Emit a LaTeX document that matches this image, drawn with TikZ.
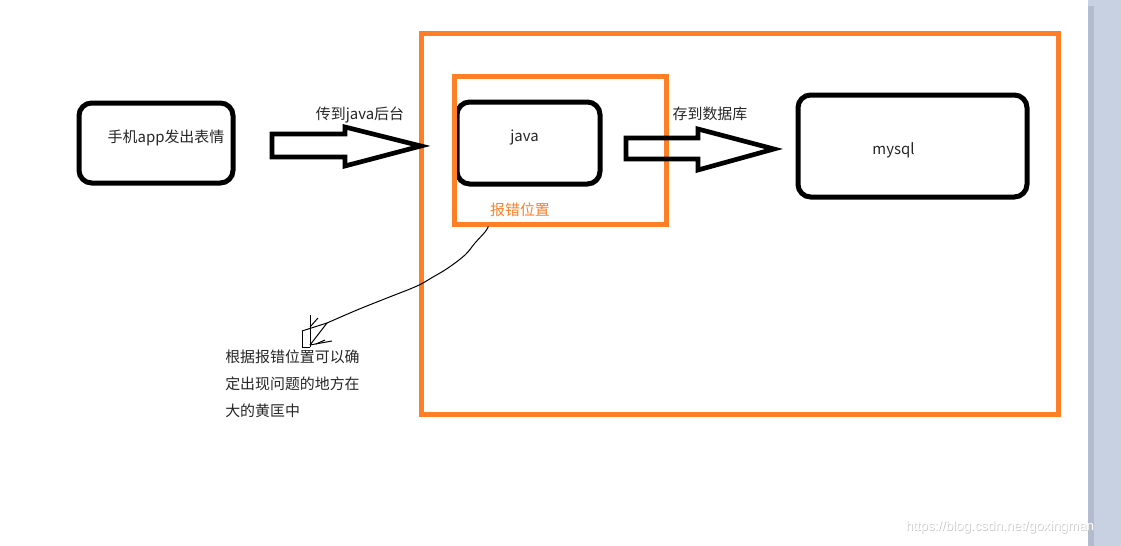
\documentclass[tikz,border=0pt]{standalone}
\usepackage{fontspec}
\setmainfont{Noto Sans CJK SC}
\newfontfamily\markfont{Liberation Sans}
\usetikzlibrary{calc}
\definecolor{paintorange}{RGB}{255,127,39}
\definecolor{barblue}{RGB}{200,209,225}
\definecolor{bardark}{RGB}{178,188,206}

\begin{document}
\begin{tikzpicture}[x=0.75pt,y=-0.75pt,font=\fontsize{11.2}{20}\selectfont,
 roundbox/.style={draw=black,line width=3.75pt,rounded corners=9.5pt,inner sep=0pt},
 errframe/.style={draw=paintorange,line width=3.75pt,inner sep=0pt},
 blockarrow/.style={draw=black,line width=3.5pt,line join=miter},
 lbl/.style={inner sep=0pt,text=black!85},
 pen/.style={line width=0.75pt}]
\useasboundingbox (0,0) rectangle (1121,546);
% scrollbar strip
\fill[barblue] (1088,0) rectangle (1121,546);
\fill[bardark] (1088,6) rectangle (1094,546);
% boxes
\node[roundbox,minimum width=115.5pt,minimum height=60pt] (app) at (156,143) {};
\node[lbl] at ($(app.center)+(10,-5)$) {手机app发出表情};
\node[roundbox,minimum width=107.25pt,minimum height=61.5pt] (java) at (528.5,143) {};
\node[lbl] at ($(java.center)+(-4,-5)$) {java};
\node[roundbox,minimum width=171.75pt,minimum height=76.5pt] (mysql) at (912.5,146) {};
\node[lbl] at ($(mysql.center)+(-19,4)$) {mysql};
% orange frames
\node[errframe,minimum width=477.75pt,minimum height=285.75pt] (bigframe) at (739.5,223.5) {};
\node[errframe,minimum width=159pt,minimum height=111pt] (errframe) at (560,150) {};
\node[inner sep=0pt,text=paintorange] (errlbl) at (520,210) {报错位置};
% block arrows
\draw[blockarrow] (272,134) -- (345,134) -- (345,127) -- (421,146) -- (345,166) -- (345,157) -- (272,157) -- cycle;
\node[lbl] (upload) at (360,115) {传到java后台};
\draw[blockarrow] (626,138) -- (698,138) -- (698,129) -- (774,149) -- (698,170) -- (698,159) -- (626,159) -- cycle;
\node[lbl] (store) at (710,114) {存到数据库};
% hand drawn pointer
\coordinate (curvestart) at ($(errframe.south west)!0.17!(errframe.south east)$);
\coordinate (curveend) at (327,323);
\draw[pen] plot[smooth,tension=0.6] coordinates {(curvestart) (485,232) (475,243) (465,255) (448,268) (433,277) (417,286) (387,298) (357,310) (curveend)};
\draw[pen] (310,315) -- (310,347);
\draw[pen] (302,331) -- (302,347) -- (310,347);
\draw[pen] (302,331) -- (curveend);
\draw[pen] (310,345) -- (curveend);
\draw[pen] (310,345) -- (332,341);
\draw[pen] (316,344) -- (325,340);
\draw[pen] (310,327) -- (318,318);
% note
\node[lbl,anchor=north west,align=left] (note) at (225,350) {根据报错位置可以确\\定出现问题的地方在\\大的黄匡中};
% watermark
\node[inner sep=0pt,text=black!22,font=\markfont\fontsize{10}{12}\selectfont] (markshadow) at (1000.7,527.7) {https://blog.csdn.net/goxingman};
\node[inner sep=0pt,text=white,font=\markfont\fontsize{10}{12}\selectfont] (mark) at (1000,527) {https://blog.csdn.net/goxingman};
\end{tikzpicture}
\end{document}
